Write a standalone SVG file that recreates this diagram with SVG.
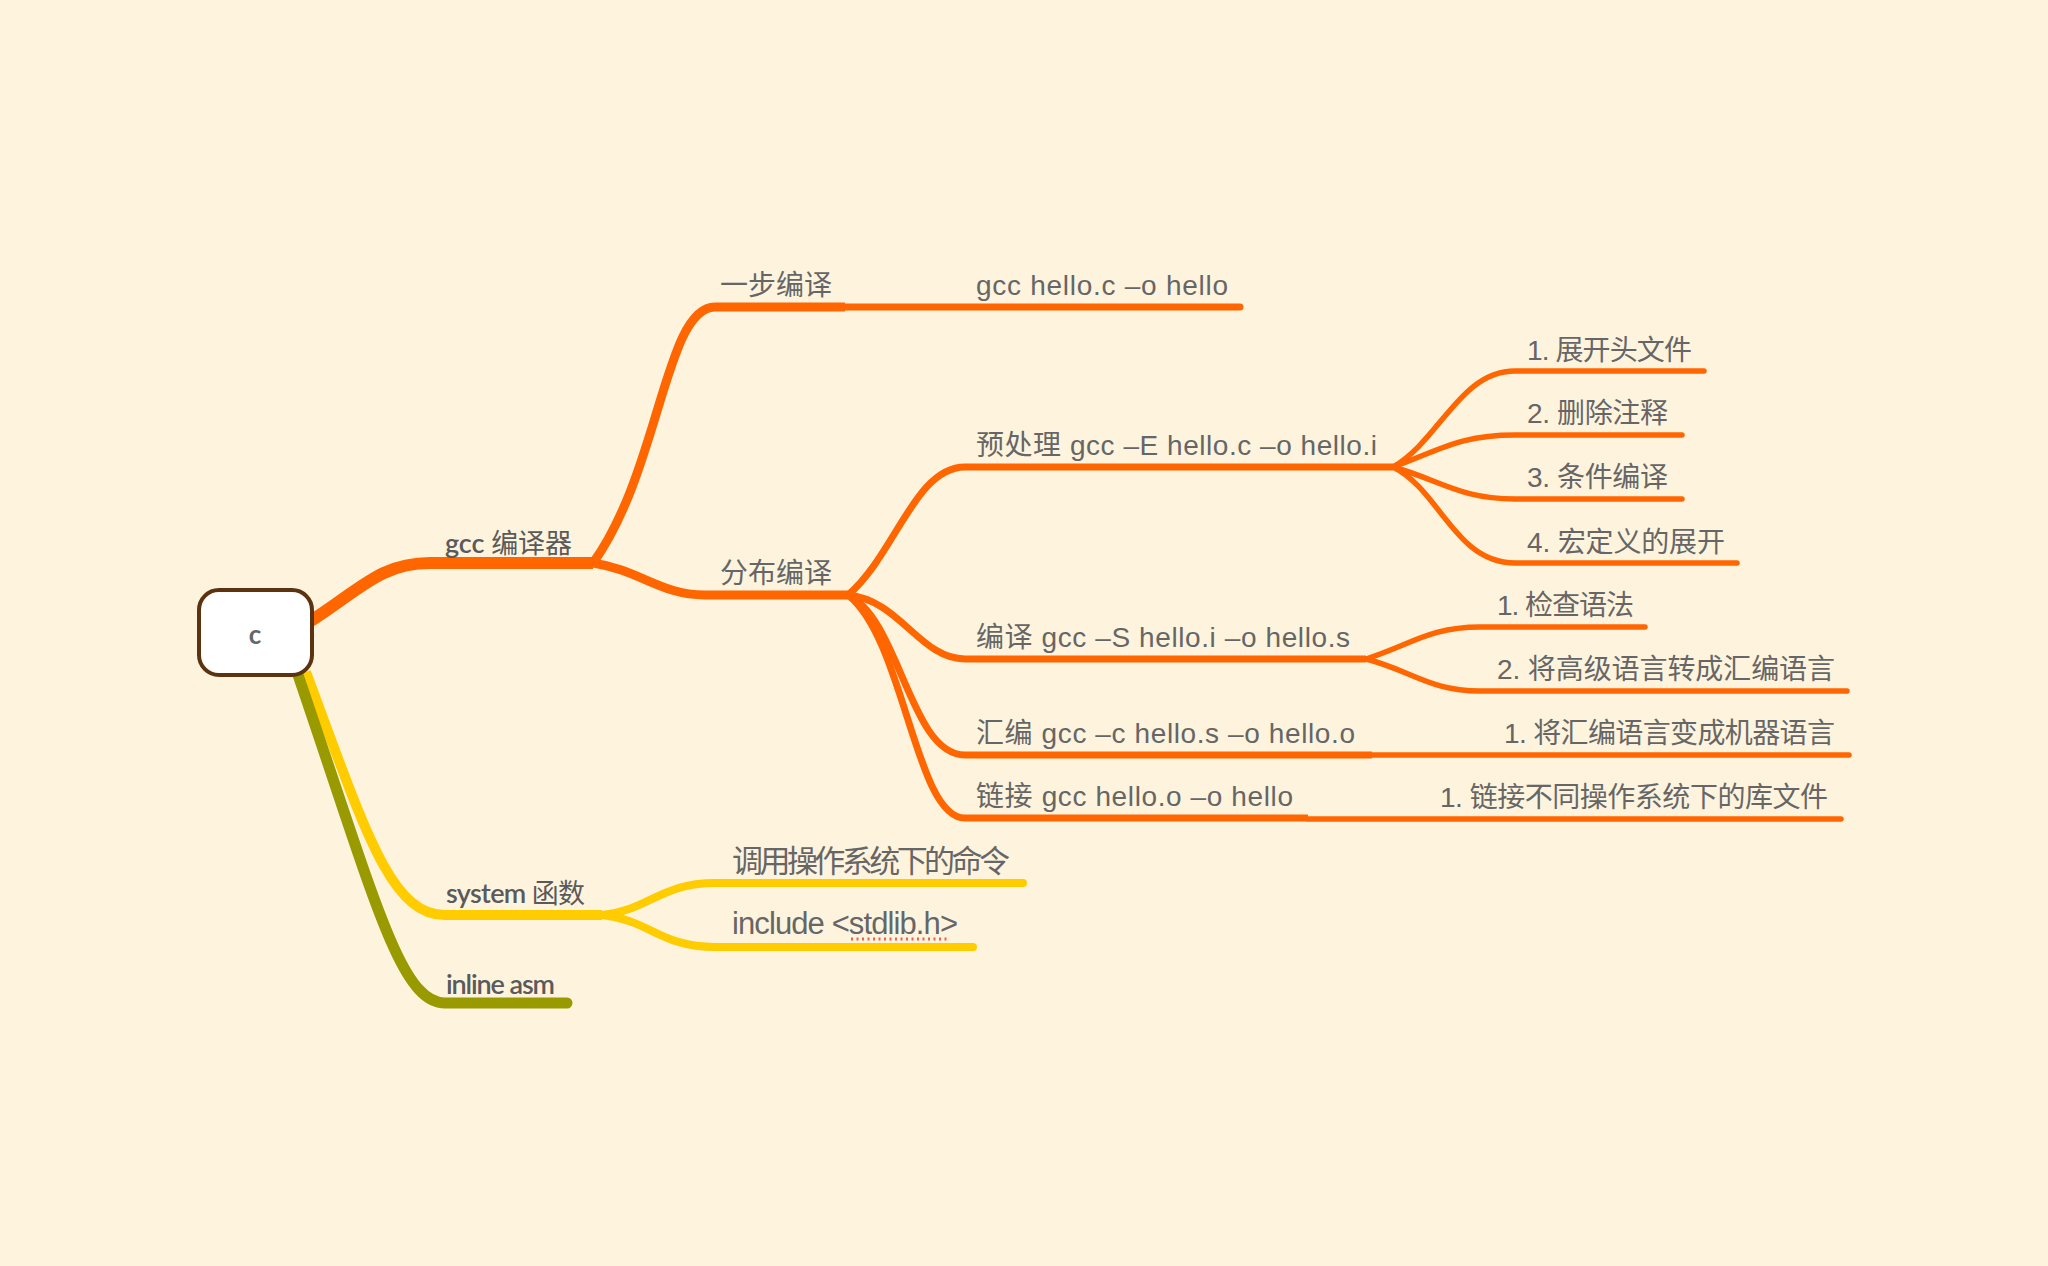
<svg xmlns="http://www.w3.org/2000/svg" width="2048" height="1266" viewBox="0 0 2048 1266">
<style>
.bg{fill:#fef4de}
.e{fill:none;stroke-linecap:butt;stroke-linejoin:round}
.leaf{stroke-linecap:round}
.o{stroke:#ff6600}
.y{stroke:#ffcc00}
.g{stroke:#999900}
.w12{stroke-width:12}
.w11{stroke-width:11}
.w10{stroke-width:10}
.w9{stroke-width:9}
.w8{stroke-width:8}
.w7{stroke-width:7}
.w5{stroke-width:5.5}
.t1{font-family:Lato,"Noto Sans CJK SC",sans-serif;font-size:27px;font-weight:normal;fill:#5a5a5a}
.lat{font-weight:600}
.t{font-family:"Liberation Sans","Noto Sans CJK SC",sans-serif;font-size:28px;fill:#666666}
.tb{font-family:"Liberation Sans","Noto Sans CJK SC",sans-serif;font-size:31px;fill:#666666}
.root{fill:#ffffff;stroke:#5c3310;stroke-width:4}
.rt{font-family:Lato,sans-serif;font-size:26px;font-weight:bold;fill:#666666}
</style>
<rect class="bg" x="0" y="0" width="2048" height="1266"/>
<g id="connectors">
  <path class="e o w12" d="M 306 624 C 360 590, 380 563, 430 563 L 593 563"/>
  <path class="e o w9" d="M 593 563 C 660 470, 665 307, 715 307 L 845 307"/>
  <path class="e leaf o w7" d="M 845 307 L 1240 307"/>
  <path class="e o w9" d="M 593 563 C 640 570, 660 595, 705 595 L 848 595"/>
  <path class="e o w7" d="M 848 595 C 895 555, 915 467, 965 467 L 1393 467"/>
  <path class="e leaf o w5" d="M 1393 467 C 1440 440, 1460 371, 1515 371 L 1704 371"/>
  <path class="e leaf o w5" d="M 1393 467 C 1440 450, 1460 435, 1515 435 L 1682 435"/>
  <path class="e leaf o w5" d="M 1393 467 C 1440 480, 1460 499, 1515 499 L 1682 499"/>
  <path class="e leaf o w5" d="M 1393 467 C 1440 490, 1455 563, 1515 563 L 1737 563"/>
  <path class="e o w7" d="M 848 595 C 900 600, 920 659, 965 659 L 1366 659"/>
  <path class="e leaf o w5" d="M 1366 659 C 1410 645, 1430 627, 1480 627 L 1645 627"/>
  <path class="e leaf o w5" d="M 1366 659 C 1410 670, 1430 691, 1480 691 L 1847 691"/>
  <path class="e o w7" d="M 848 595 C 900 620, 910 755, 965 755 L 1372 755"/>
  <path class="e leaf o w5" d="M 1372 755 L 1849 755"/>
  <path class="e o w7" d="M 848 595 C 905 640, 915 818, 965 818 L 1308 818"/>
  <path class="e leaf o w5" d="M 1308 819 L 1841 819"/>
  <path class="e y w10" d="M 306 672 C 365 830, 390 915, 445 915 L 602 915"/>
  <path class="e leaf y w8" d="M 602 915 C 650 910, 660 883, 715 883 L 1023 883"/>
  <path class="e leaf y w8" d="M 602 915 C 650 920, 660 947, 715 947 L 973 947"/>
  <path class="e leaf g w11" d="M 297 672 C 375 900, 400 1003, 445 1003 L 567 1003"/>
</g>
<g id="node-root">
  <rect class="root" x="199" y="590" width="113" height="85" rx="20" ry="20"/>
  <text class="rt" x="255" y="644" text-anchor="middle">c</text>
</g>
<g id="node-gcc">
  <text class="t1" x="445" y="553" textLength="127"><tspan class="lat">gcc</tspan> 编译器</text>
</g>
<g id="node-onestep">
  <text class="t" x="720" y="295">一步编译</text>
</g>
<g id="node-onestep-cmd">
  <text class="t" x="976" y="295" textLength="252">gcc hello.c –o hello</text>
</g>
<g id="node-multistep">
  <text class="t" x="720" y="583">分布编译</text>
</g>
<g id="node-preprocess">
  <text class="t" x="976" y="455" textLength="401">预处理 gcc –E hello.c –o hello.i</text>
</g>
<g id="node-pre-1">
  <text class="t" x="1527" y="360" textLength="165">1. 展开头文件</text>
</g>
<g id="node-pre-2">
  <text class="t" x="1527" y="423" textLength="141">2. 删除注释</text>
</g>
<g id="node-pre-3">
  <text class="t" x="1527" y="487" textLength="141">3. 条件编译</text>
</g>
<g id="node-pre-4">
  <text class="t" x="1527" y="552" textLength="198">4. 宏定义的展开</text>
</g>
<g id="node-compile">
  <text class="t" x="976" y="647" textLength="374">编译 gcc –S hello.i –o hello.s</text>
</g>
<g id="node-compile-1">
  <text class="t" x="1497" y="615" textLength="137">1. 检查语法</text>
</g>
<g id="node-compile-2">
  <text class="t" x="1497" y="679" textLength="338">2. 将高级语言转成汇编语言</text>
</g>
<g id="node-assemble">
  <text class="t" x="976" y="743" textLength="379">汇编 gcc –c hello.s –o hello.o</text>
</g>
<g id="node-assemble-1">
  <text class="t" x="1504" y="743" textLength="331">1. 将汇编语言变成机器语言</text>
</g>
<g id="node-link">
  <text class="t" x="976" y="806" textLength="317">链接 gcc hello.o –o hello</text>
</g>
<g id="node-link-1">
  <text class="t" x="1440" y="807" textLength="388">1. 链接不同操作系统下的库文件</text>
</g>
<g id="node-system">
  <text class="t1" x="446" y="903" textLength="139"><tspan class="lat">system</tspan> 函数</text>
</g>
<g id="node-system-1">
  <text class="tb" x="732" y="872" textLength="278">调用操作系统下的命令</text>
</g>
<g id="node-system-2">
  <text class="tb" x="732" y="934" textLength="226">include &lt;stdlib.h&gt;</text>
  <path d="M 851 939 L 947 939" fill="none" stroke="#f06050" stroke-width="3" stroke-dasharray="2 3.5"/>
</g>
<g id="node-inline">
  <text class="t1 lat" x="446" y="994" textLength="109">inline asm</text>
</g>
</svg>
